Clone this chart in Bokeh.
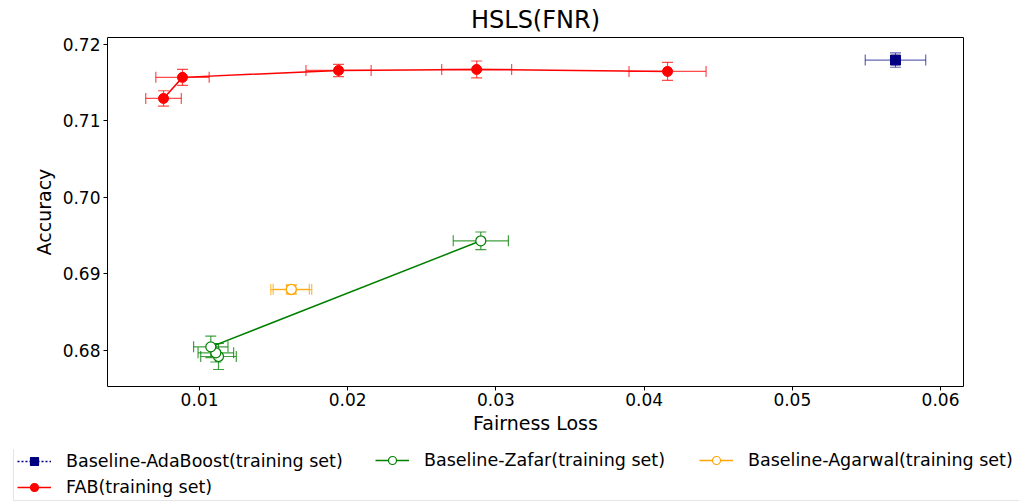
from bokeh.plotting import figure
from bokeh.layouts import column
from bokeh.models import (Range1d, Whisker, ColumnDataSource, Legend, LegendItem,
                          FixedTicker, NumeralTickFormatter, TeeHead)
from bokeh.embed import file_html
from bokeh.resources import INLINE

TITLE = "HSLS(FNR)"
X_LABEL = "Fairness Loss"
Y_LABEL = "Accuracy"
X_TICKS = [0.01, 0.02, 0.03, 0.04, 0.05, 0.06]
Y_TICKS = [0.68, 0.69, 0.70, 0.71, 0.72]

ada_label = "Baseline-AdaBoost(training set)"
ada_x = [0.05696]
ada_y = [0.71795]
ada_xerr = [0.00204]
ada_yerr = [0.00094]

fab_label = "FAB(training set)"
fab_x = [0.00757, 0.00885, 0.01938, 0.02870, 0.04158]
fab_y = [0.71294, 0.71569, 0.71660, 0.71673, 0.71647]
fab_xerr = [0.0012, 0.0018, 0.0022, 0.00236, 0.0026]
fab_yerr = [0.0010, 0.00105, 0.0008, 0.0011, 0.00118]

zafar_label = "Baseline-Zafar(training set)"
zafar_x = [0.01128, 0.0111, 0.01076, 0.02898]
zafar_y = [0.67922, 0.6797, 0.68048, 0.69434]
zafar_xerr = [0.0012, 0.0012, 0.00116, 0.00186]
zafar_yerr = [0.0017, 0.0012, 0.0014, 0.00115]

agarwal_label = "Baseline-Agarwal(training set)"
agarwal_x = [0.01619, 0.01619]
agarwal_y = [0.68797, 0.68800]
agarwal_xerr = [0.00138, 0.00122]
agarwal_yerr = [0.0006, 0.0005]

FONT = "DejaVu Sans"

p = figure(width=1011, height=449, output_backend="svg", toolbar_location=None,
           x_range=Range1d(0.00379, 0.06155), y_range=Range1d(0.6753, 0.7209),
           min_border_left=107, min_border_right=48, min_border_bottom=63, min_border_top=37,
           background_fill_color="white", border_fill_color="white")
p.grid.visible = False
p.outline_line_color = "black"
p.outline_line_width = 1

p.title.text = TITLE
p.title.align = "center"
p.title.text_font = FONT
p.title.text_font_size = "24px"
p.title.text_font_style = "normal"
p.title.text_color = "black"
p.title.standoff = 7

p.xaxis.axis_label = X_LABEL
p.yaxis.axis_label = Y_LABEL
p.xaxis.ticker = FixedTicker(ticks=X_TICKS)
p.yaxis.ticker = FixedTicker(ticks=Y_TICKS)
p.xaxis.formatter = NumeralTickFormatter(format="0.00")
p.yaxis.formatter = NumeralTickFormatter(format="0.00")
for ax in (p.xaxis, p.yaxis):
    ax.axis_line_color = None
    ax.major_tick_in = 0
    ax.major_tick_out = 4
    ax.major_tick_line_color = "black"
    ax.minor_tick_line_color = None
    ax.major_label_text_font = FONT
    ax.major_label_text_font_size = "17px"
    ax.major_label_text_color = "black"
    ax.axis_label_text_font = FONT
    ax.axis_label_text_font_size = "19px"
    ax.axis_label_text_font_style = "normal"
    ax.axis_label_text_color = "black"
p.xaxis.major_label_standoff = 2
p.yaxis.major_label_standoff = 3
p.xaxis.axis_label_standoff = 3
p.yaxis.axis_label_standoff = 5


def errorbars(xs, ys, xe, ye, color, alpha):
    src = ColumnDataSource(dict(
        x=xs, y=ys,
        xl=[a - b for a, b in zip(xs, xe)], xu=[a + b for a, b in zip(xs, xe)],
        yl=[a - b for a, b in zip(ys, ye)], yu=[a + b for a, b in zip(ys, ye)]))
    for dim, base, lo, up in (("width", "y", "xl", "xu"), ("height", "x", "yl", "yu")):
        w = Whisker(source=src, base=base, lower=lo, upper=up, dimension=dim,
                    line_color=color, line_alpha=alpha, line_width=1.2, level="underlay",
                    lower_head=TeeHead(size=11, line_color=color, line_alpha=alpha, line_width=1.2),
                    upper_head=TeeHead(size=11, line_color=color, line_alpha=alpha, line_width=1.2))
        p.add_layout(w)


errorbars(ada_x, ada_y, ada_xerr, ada_yerr, "navy", 0.6)
errorbars(fab_x, fab_y, fab_xerr, fab_yerr, "red", 0.7)
errorbars(zafar_x, zafar_y, zafar_xerr, zafar_yerr, "green", 0.75)
errorbars(agarwal_x, agarwal_y, agarwal_xerr, agarwal_yerr, "orange", 0.75)

p.line(ada_x, ada_y, line_color="navy", line_width=1.5, line_dash="2 2")
p.scatter(ada_x, ada_y, marker="square", size=10, fill_color="navy", line_color="navy")
p.line(fab_x, fab_y, line_color="red", line_width=1.5)
p.scatter(fab_x, fab_y, marker="circle", size=10, fill_color="red", line_color="red")
p.line(zafar_x, zafar_y, line_color="green", line_width=1.5)
p.scatter(zafar_x, zafar_y, marker="circle", size=10, fill_color="white",
          line_color="green", line_width=1.2)
p.line(agarwal_x, agarwal_y, line_color="orange", line_width=1.5)
p.scatter(agarwal_x, agarwal_y, marker="circle", size=10, fill_color="white",
          line_color="orange", line_width=1.2)

# legend strip below the chart
q = figure(width=1019, height=53, output_backend="svg", toolbar_location=None,
           x_range=Range1d(0, 1), y_range=Range1d(0, 1), x_axis_type=None, y_axis_type=None,
           min_border=0, outline_line_color=None, frame_align=False)
q.grid.visible = False
NAN = float("nan")


def legend_glyphs(color, marker, fill, dash):
    l = q.line([NAN, NAN], [NAN, NAN], line_color=color, line_width=1.5, line_dash=dash)
    m = q.scatter([NAN], [NAN], marker=marker, size=10, fill_color=fill, line_color=color,
                  line_width=1.2)
    return [l, m]


LEG = dict(label_text_font=FONT, label_text_font_size="17.5px", label_text_color="black",
           glyph_width=34, glyph_height=20, label_standoff=15, spacing=6,
           padding=3, margin=0)

legend_main = Legend(items=[
    LegendItem(label=ada_label, renderers=legend_glyphs("navy", "square", "navy", "2 2")),
    LegendItem(label=fab_label, renderers=legend_glyphs("red", "circle", "red", "solid")),
], location=(13, 1), orientation="vertical", label_width=950,
    border_line_color="#cccccc", border_line_width=1, background_fill_color="white",
    background_fill_alpha=1.0, **LEG)
q.add_layout(legend_main, "center")

legend_zafar = Legend(items=[
    LegendItem(label=zafar_label, renderers=legend_glyphs("green", "circle", "white", "solid")),
], location=(375, 32), orientation="vertical", border_line_color=None,
    background_fill_alpha=0.0, **LEG)
q.add_layout(legend_zafar, "center")

legend_agarwal = Legend(items=[
    LegendItem(label=agarwal_label, renderers=legend_glyphs("orange", "circle", "white", "solid")),
], location=(699, 32), orientation="vertical", border_line_color=None,
    background_fill_alpha=0.0, **LEG)
q.add_layout(legend_agarwal, "center")

open("out.html", "w").write(file_html(column(p, q), INLINE))
